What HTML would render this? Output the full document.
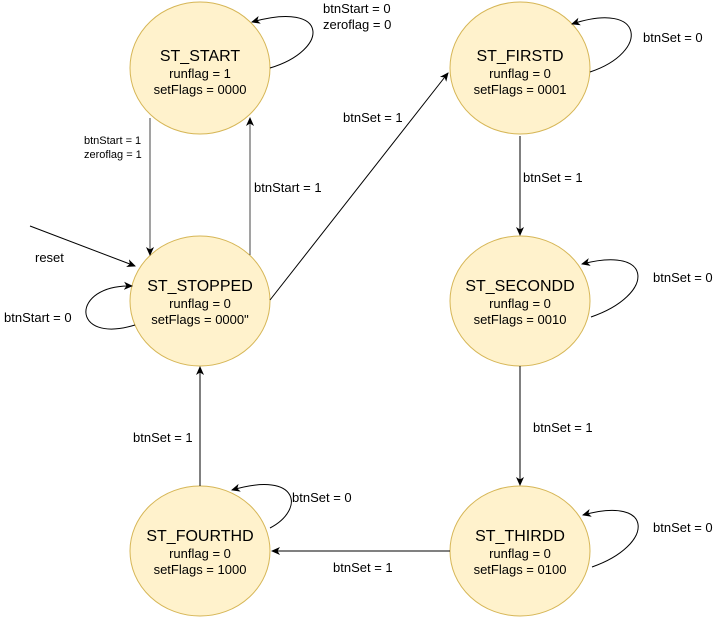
<!DOCTYPE html>
<html><head><style>body{margin:0;background:#fff}svg{display:block}text{font-family:"Liberation Sans",sans-serif;fill:#000}</style></head><body>
<svg width="721" height="617" viewBox="0 0 721 617">
<defs><marker id="a" markerWidth="10" markerHeight="10" refX="8" refY="5" orient="auto" markerUnits="userSpaceOnUse"><path d="M0,1 L9,5 L0,9 L2.5,5 Z" fill="#000"/></marker></defs>
<g fill="#fff2cc" stroke="#d6b656" stroke-width="1">
<ellipse cx="200" cy="68" rx="70" ry="66"/>
<ellipse cx="520" cy="68" rx="70" ry="66"/>
<ellipse cx="200" cy="301" rx="70" ry="65"/>
<ellipse cx="520" cy="301" rx="70" ry="65"/>
<ellipse cx="200" cy="551" rx="70" ry="65"/>
<ellipse cx="520" cy="551" rx="70" ry="65"/>
</g>
<g fill="none" stroke="#000" stroke-width="1" marker-end="url(#a)">
<path d="M270,68 C330,50 330,0 252,22"/>
<path d="M150,118 L150,255" stroke="#444"/>
<path d="M250,255 L250,118" stroke="#444"/>
<path d="M30,226 L135,266"/>
<path d="M135,325 C70,345 70,284 132,286"/>
<path d="M270,300 L448,73"/>
<path d="M590,72 C650,52 645,0 572,24"/>
<path d="M520,136 L520,235"/>
<path d="M591,317 C655,295 655,245 582,264"/>
<path d="M520,366 L520,485"/>
<path d="M592,567 C655,545 655,495 583,515"/>
<path d="M450,551 L272,551"/>
<path d="M200,486 L200,367"/>
<path d="M270,528 C305,510 300,470 232,490"/>
</g>
<g text-anchor="middle">
<text x="200" y="61" font-size="16">ST_START</text><text x="200" y="78" font-size="13">runflag = 1</text><text x="200" y="94" font-size="13">setFlags = 0000</text>
<text x="520" y="61" font-size="16">ST_FIRSTD</text><text x="520" y="78" font-size="13">runflag = 0</text><text x="520" y="94" font-size="13">setFlags = 0001</text>
<text x="200" y="291" font-size="16">ST_STOPPED</text><text x="200" y="308" font-size="13">runflag = 0</text><text x="200" y="324" font-size="13">setFlags = 0000"</text>
<text x="520" y="291" font-size="16">ST_SECONDD</text><text x="520" y="308" font-size="13">runflag = 0</text><text x="520" y="324" font-size="13">setFlags = 0010</text>
<text x="200" y="541" font-size="16">ST_FOURTHD</text><text x="200" y="558" font-size="13">runflag = 0</text><text x="200" y="574" font-size="13">setFlags = 1000</text>
<text x="520" y="541" font-size="16">ST_THIRDD</text><text x="520" y="558" font-size="13">runflag = 0</text><text x="520" y="574" font-size="13">setFlags = 0100</text>
</g>
<g font-size="13">
<text x="323" y="13">btnStart = 0</text><text x="323" y="29">zeroflag = 0</text>
<text x="84" y="144" font-size="11">btnStart = 1</text><text x="84" y="158" font-size="11">zeroflag = 1</text>
<text x="254" y="192">btnStart = 1</text>
<text x="35" y="262">reset</text>
<text x="4" y="322">btnStart = 0</text>
<text x="343" y="122">btnSet = 1</text>
<text x="643" y="42">btnSet = 0</text>
<text x="523" y="182">btnSet = 1</text>
<text x="653" y="282">btnSet = 0</text>
<text x="533" y="432">btnSet = 1</text>
<text x="653" y="532">btnSet = 0</text>
<text x="333" y="572">btnSet = 1</text>
<text x="133" y="442">btnSet = 1</text>
<text x="292" y="502">btnSet = 0</text>
</g>
</svg>
</body></html>
